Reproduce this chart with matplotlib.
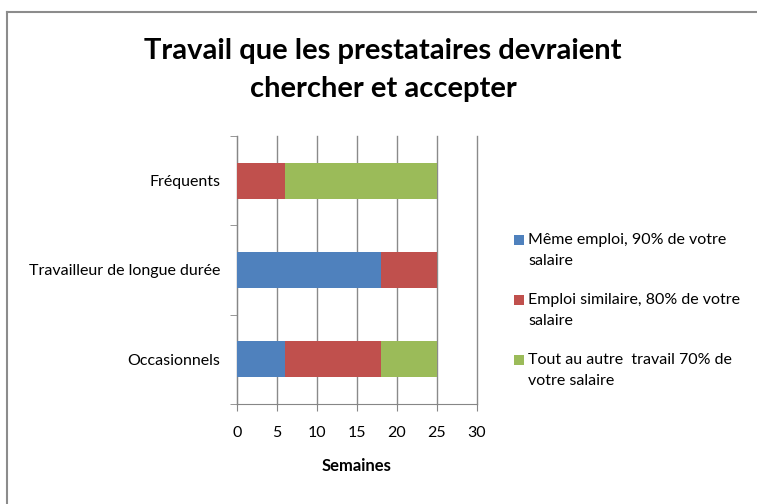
import matplotlib
matplotlib.use("Agg")
import matplotlib.pyplot as plt
from matplotlib.lines import Line2D
from matplotlib.patches import Rectangle
import numpy as np

plt.rcParams["font.family"] = ["Lato", "DejaVu Sans"]

categories = ["Occasionnels", "Travailleur de longue durée", "Fréquents"]
series_names = [
    "Même emploi, 90% de votre\nsalaire",
    "Emploi similaire, 80% de votre\nsalaire",
    "Tout au autre  travail 70% de\nvotre salaire",
]
meme_emploi = [6, 18, 0]
emploi_similaire = [12, 7, 6]
autre_travail = [7, 0, 19]
colors = ["#4F81BD", "#C0504D", "#9BBB59"]
xticks = [0, 5, 10, 15, 20, 25, 30]

fig = plt.figure(figsize=(7.57, 5.04), dpi=100)
ax = fig.add_axes([237 / 757, 100 / 504, 240 / 757, 268 / 504])

# outer chart frame (only top and left edges are inside the picture)
fx, fy = 6.5 / 757, 1 - 11.5 / 504
fig.add_artist(Line2D([fx, 1.01], [fy, fy], transform=fig.transFigure,
                      color="#8c8c8c", linewidth=1.5))
fig.add_artist(Line2D([fx, fx], [-0.01, fy], transform=fig.transFigure,
                      color="#8c8c8c", linewidth=1.5))

y = np.arange(len(categories))
left = np.zeros(len(categories))
for vals, col, name in zip([meme_emploi, emploi_similaire, autre_travail], colors, series_names):
    ax.barh(y, vals, left=left, height=0.4, color=col, zorder=3, label=name)
    left += np.array(vals)

ax.set_xlim(0, 30)
ax.set_ylim(-0.5, 2.5)
ax.set_xticks(xticks)
ax.set_xticklabels([str(t) for t in xticks], fontsize=11.5)
ax.set_yticks(y)
ax.set_yticklabels(categories, fontsize=11.5)
ax.set_yticks([-0.5, 0.5, 1.5, 2.5], minor=True)
ax.tick_params(axis="y", which="major", length=0, pad=12)
ax.tick_params(axis="y", which="minor", length=5, color="#868686")
ax.tick_params(axis="x", length=5, color="#868686", pad=11)
ax.grid(axis="x", color="#8a8a8a", linewidth=1, zorder=0)
for gl in ax.get_xgridlines():
    gl.set_clip_on(False)
for s in ["top", "right"]:
    ax.spines[s].set_visible(False)
for s in ["left", "bottom"]:
    ax.spines[s].set_color("#868686")

ax.set_xlabel("Semaines", fontsize=12, fontweight="bold", labelpad=13)

fig.text(383 / 757, 1 - 70 / 504, "Travail que les prestataires devraient\nchercher et accepter",
         ha="center", va="center", fontsize=21, fontweight="bold", linespacing=1.55)

# legend, marker aligned with the first line of each entry
for i, (name, col) in enumerate(zip(series_names, colors)):
    yy = 1 - (240 + 60 * i) / 504
    fig.patches.append(Rectangle((514 / 757, yy - 5 / 504), 10 / 757, 10 / 504,
                                 transform=fig.transFigure, facecolor=col, edgecolor="none"))
    fig.text(528 / 757, yy + 7 / 504, name, ha="left", va="top", fontsize=11.5, linespacing=1.65)

fig.savefig("out.png", dpi=100)
